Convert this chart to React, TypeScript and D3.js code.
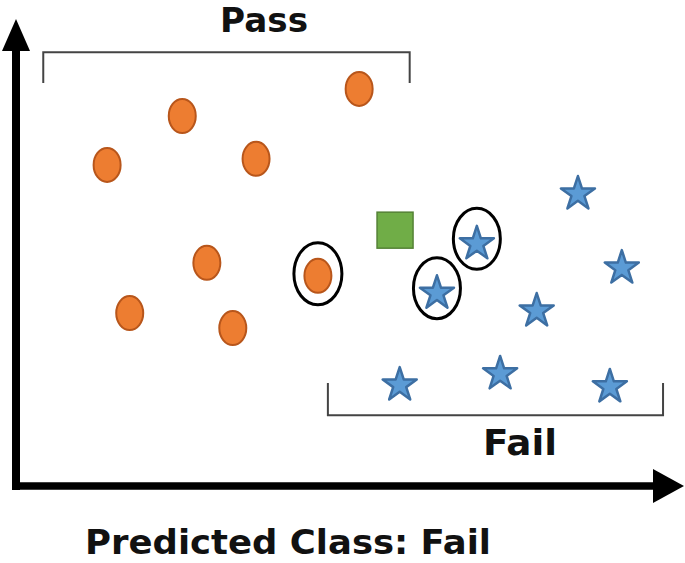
import React from "react";
import * as d3 from "d3";

// feature values (both axes 0..10)
const passX = [5.16, 2.5, 1.37, 3.61, 2.87, 4.54, 1.71, 3.26];
const passY = [8.52, 7.94, 6.89, 7.02, 4.79, 4.51, 3.71, 3.39];
const failX = [8.45, 6.93, 9.11, 6.33, 7.83, 5.77, 7.28, 8.93];
const failY = [6.31, 5.24, 4.72, 4.18, 3.8, 2.21, 2.45, 2.17];
const queryPoint = [5.7, 5.49];
// nearest neighbours that get a ring
const passNeighbours = [5];
const failNeighbours = [1, 3];

const passBracket = { x0: 0.41, x1: 5.92, y: 9.31, tick: 8.65 };
const failBracket = { x0: 4.69, x1: 9.73, y: 1.52, tick: 2.21 };
const passLabel = { text: "Pass", x: 3.73 };
const failLabel = { text: "Fail", x: 7.58 };
const caption = "Predicted Class: Fail";

const W = 685;
const H = 563;

export default function App() {
  const x = d3.scaleLinear().domain([0, 10]).range([16, 681]);
  const y = d3.scaleLinear().domain([0, 10]).range([486, 20]);

  const star = d3.symbol(d3.symbolStar, 360)();
  const font = "'DejaVu Sans', sans-serif";

  const bracket = (b: typeof passBracket) =>
    d3.line()([
      [x(b.x0), y(b.tick)],
      [x(b.x0), y(b.y)],
      [x(b.x1), y(b.y)],
      [x(b.x1), y(b.tick)]
    ]);

  return (
    <svg
      width={W}
      height={H}
      style={{ position: "absolute", left: 0, top: 0, background: "#fff" }}
    >
      {/* axes */}
      <line x1={x(0)} y1={y(0) + 4} x2={x(0)} y2={50} stroke="#000" strokeWidth={8} />
      <path d="M2,51 L30,51 L16,19 Z" fill="#000" />
      <line x1={x(0) - 4} y1={y(0)} x2={654} y2={y(0)} stroke="#000" strokeWidth={7.5} />
      <path d="M653,469 L653,503 L684,486 Z" fill="#000" />

      {/* brackets */}
      <path d={bracket(passBracket) || ""} fill="none" stroke="#444" strokeWidth={2} />
      <path d={bracket(failBracket) || ""} fill="none" stroke="#444" strokeWidth={2} />

      <text
        x={x(passLabel.x)}
        y={32}
        textAnchor="middle"
        fontFamily={font}
        fontWeight={700}
        fontSize={33}
        textLength={88}
        lengthAdjust="spacingAndGlyphs"
        fill="#111"
      >
        {passLabel.text}
      </text>
      <text
        x={x(failLabel.x)}
        y={455}
        textAnchor="middle"
        fontFamily={font}
        fontWeight={700}
        fontSize={36}
        textLength={74}
        lengthAdjust="spacingAndGlyphs"
        fill="#111"
      >
        {failLabel.text}
      </text>

      {/* rings around the nearest neighbours */}
      {passNeighbours.map(i => (
        <ellipse
          key={"pr" + i}
          cx={x(passX[i])}
          cy={y(passY[i]) - 2}
          rx={24}
          ry={31}
          fill="none"
          stroke="#000"
          strokeWidth={3}
        />
      ))}
      {failNeighbours.map(i => (
        <ellipse
          key={"fr" + i}
          cx={x(failX[i])}
          cy={y(failY[i]) - 3}
          rx={23.5}
          ry={30.5}
          fill="none"
          stroke="#000"
          strokeWidth={3}
        />
      ))}

      {/* pass class */}
      {passX.map((v, i) => (
        <ellipse
          key={"p" + i}
          cx={x(v)}
          cy={y(passY[i])}
          rx={13.5}
          ry={17}
          fill="#ED7D31"
          stroke="#B8561B"
          strokeWidth={2}
        />
      ))}

      {/* fail class */}
      {failX.map((v, i) => (
        <path
          key={"f" + i}
          d={star || ""}
          transform={`translate(${x(v)},${y(failY[i]) + 2})`}
          fill="#5B9BD5"
          stroke="#3D6FA3"
          strokeWidth={2.5}
          strokeLinejoin="round"
        />
      ))}

      {/* query point */}
      <rect
        x={x(queryPoint[0]) - 18}
        y={y(queryPoint[1]) - 18}
        width={36}
        height={36}
        fill="#70AD47"
        stroke="#548235"
        strokeWidth={1.5}
      />

      <text
        x={85}
        y={554}
        fontFamily={font}
        fontWeight={700}
        fontSize={33}
        textLength={406}
        lengthAdjust="spacingAndGlyphs"
        fill="#111"
      >
        {caption}
      </text>
    </svg>
  );
}
